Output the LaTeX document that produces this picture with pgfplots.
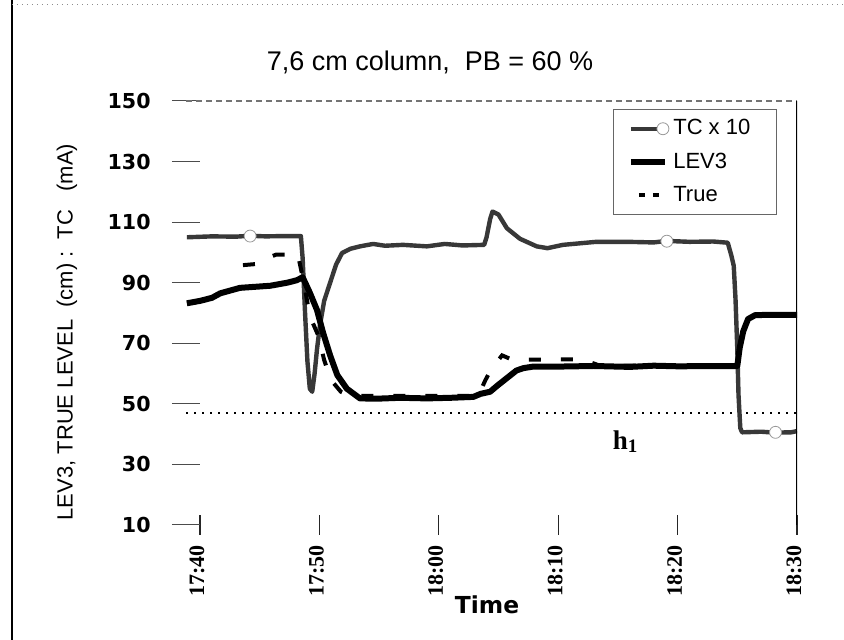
\documentclass[border=0pt]{standalone}
\usepackage{pgfplots}
\pgfplotsset{compat=1.18}
\usepackage{fontspec}
\setmainfont{Liberation Sans}
\newfontfamily\dv{DejaVu Sans}
\newfontfamily\lserif{Liberation Serif}

\begin{document}
\begin{tikzpicture}
% page frame (422pt x 320pt)
\path[use as bounding box] (-93pt,-57.5pt) rectangle (329pt,262.5pt);
\draw[black, line width=0.8pt] (-87pt,262.5pt) -- (-87pt,-57.5pt);
\draw[black!45, dotted, line width=0.5pt] (-87pt,260pt) -- (329pt,260pt);

\begin{axis}[
  scale only axis, width=305.5pt, height=212pt,
  xmin=-1.17, xmax=50, ymin=10, ymax=150,
  axis line style={draw=none},
  tick pos=left, tick align=center,
  xtick={0,10,20,30,40,50},
  xticklabels={17:40,17:50,18:00,18:10,18:20,18:30},
  ytick={10,30,50,70,90,110,130,150},
  yticklabels={10,30,50,70,90,110,130,150},
  major tick length=12pt,
  xtick style={black!85, line width=0.6pt, /pgfplots/major tick length=10pt},
  ytick style={black!70, line width=0.5pt, /pgfplots/major tick length=14pt},
  xticklabel style={font=\lserif\bfseries\fontsize{11}{11}\selectfont, yshift=-4pt, xshift=-1.5pt, rotate=90, anchor=east, inner sep=0pt},
  yticklabel style={font=\dv\bfseries\fontsize{10.3}{11}\selectfont, anchor=east, inner sep=0pt, xshift=-11.5pt},
  legend style={at={(0.967,0.981)}, anchor=north east, draw=black!60, line width=0.5pt,
    font=\fontsize{11}{12}\selectfont, inner xsep=7pt, inner ysep=3pt, row sep=3.5pt},
  legend cell align=left,
]
% h1 reference level
\draw[black, line width=0.7pt, dash pattern=on 0.8pt off 3.2pt] (axis cs:-1.17,47) -- (axis cs:50,47);

% TC x 10
\addplot[black!78, line width=2.2pt, line join=round,
  legend image code/.code={
    \draw[black!78, line width=2.2pt] (0pt,0pt) -- (13pt,0pt);
    \draw[black!40, fill=white, line width=0.4pt] (16pt,0pt) circle (3pt);}]
coordinates {
(-1.1,105.0) (1,105.3) (3,105.2) (4.2,105.5) (5.5,105.3) (7,105.4) (8.45,105.4)
(8.6,98) (8.8,80) (9.0,64) (9.2,55) (9.4,54) (9.6,60) (9.8,68) (10.05,76)
(10.4,84) (10.9,90) (11.4,96) (11.9,99.8) (12.6,101.2) (13.4,102) (14.5,102.8)
(15.5,102.2) (17,102.5) (19,102.0) (20.5,102.8) (22,102.3) (23.8,102.5)
(24.0,105) (24.3,111) (24.5,113.5) (25.0,112.5) (25.7,108) (26.8,104.5)
(28.2,102) (29.1,101.4) (30.4,102.5) (33.2,103.5) (35.8,103.5) (38,103.3)
(39.1,103.8) (41,103.5) (43,103.6) (44.2,103.2) (44.5,99) (44.7,95.6)
(44.85,84.6) (45.0,68) (45.1,53) (45.25,42) (45.4,40.6) (47,40.8) (48.1,40.5)
(49.5,40.6) (50,41)
};
\addlegendentry{TC x 10\hspace*{4pt}}

% LEV3
\addplot[black, line width=3pt, line join=round]
coordinates {
(-1.1,83.2) (0,84) (1,85) (1.7,86.5) (3.35,88.3) (5.9,89) (7.3,90) (8.1,90.8)
(8.6,91.8) (9.2,86.7) (9.8,81) (10.3,73.6) (10.9,66) (11.5,59.5) (12.3,55)
(13.4,51.8) (14.8,51.7) (16.8,52) (19,51.8) (21,52) (22.9,52.3) (23.5,53.3)
(24.3,54) (24.9,56) (25.7,58.5) (26.5,61) (27.1,61.8) (27.9,62.3) (30,62.3)
(33,62.5) (36,62.2) (38,62.6) (40,62.4) (45.0,62.5) (45.2,68.5) (45.5,74)
(45.9,78) (46.5,79.3) (48,79.4) (50,79.4)
};
\addlegendentry{LEV3}

% True level
\addplot[black, line width=2pt, dash pattern=on 6pt off 10pt,
  legend image code/.code={
    \draw[black, line width=2pt] (4pt,0pt) -- (7pt,0pt);
    \draw[black, line width=2pt] (11pt,0pt) -- (14pt,0pt);}]
coordinates {
(3.6,95.8) (4.8,96.2) (5.4,97.8) (6.4,99.3) (8.2,99.3) (8.7,90) (9.2,79)
(9.9,72.6) (10.4,64.5) (10.8,59.7) (11.2,56.8) (11.8,54) (12.6,52.6)
(23.3,52.6) (23.9,57.8) (24.4,61.5) (25.3,66) (26.2,64.5) (28,64.6) (32,64.7)
(33.5,62.6) (45,62.6) (45.2,68.5) (45.5,74) (45.9,78) (46.5,79.3) (50,79.4)
};
\addlegendentry{True}

% TC markers
\addplot[only marks, mark=*, mark size=3pt,
  mark options={fill=white, draw=black!40, line width=0.4pt}, forget plot]
coordinates {(4.2,105.4) (39.1,103.7) (48.2,40.6)};

% plot frame: top and right
\draw[black!55, densely dashed, line width=0.6pt] (rel axis cs:0,1) -- (rel axis cs:1,1);
\draw[black, line width=0.8pt] (rel axis cs:1,1) -- (rel axis cs:1,0) -- ++(0pt,-3pt);
\end{axis}

% titles and labels
\node at (122pt,231.5pt) {\fontsize{13.5}{15}\selectfont 7,6 cm column,\ \ PB = 60 \%};
\node[rotate=90] at (-59.5pt,96.5pt) {\fontsize{11}{12}\selectfont LEV3, TRUE LEVEL\ \ (cm)\ :\ \ TC\ \ \ (mA)};
\node at (150.5pt,-40pt) {\dv\bfseries\fontsize{11.7}{13}\selectfont Time};
\node at (219.5pt,41.5pt) {\lserif\bfseries\fontsize{13.5}{15}\selectfont h\raisebox{-1.5pt}{\fontsize{9.5}{10}\selectfont 1}};
\end{tikzpicture}
\end{document}
